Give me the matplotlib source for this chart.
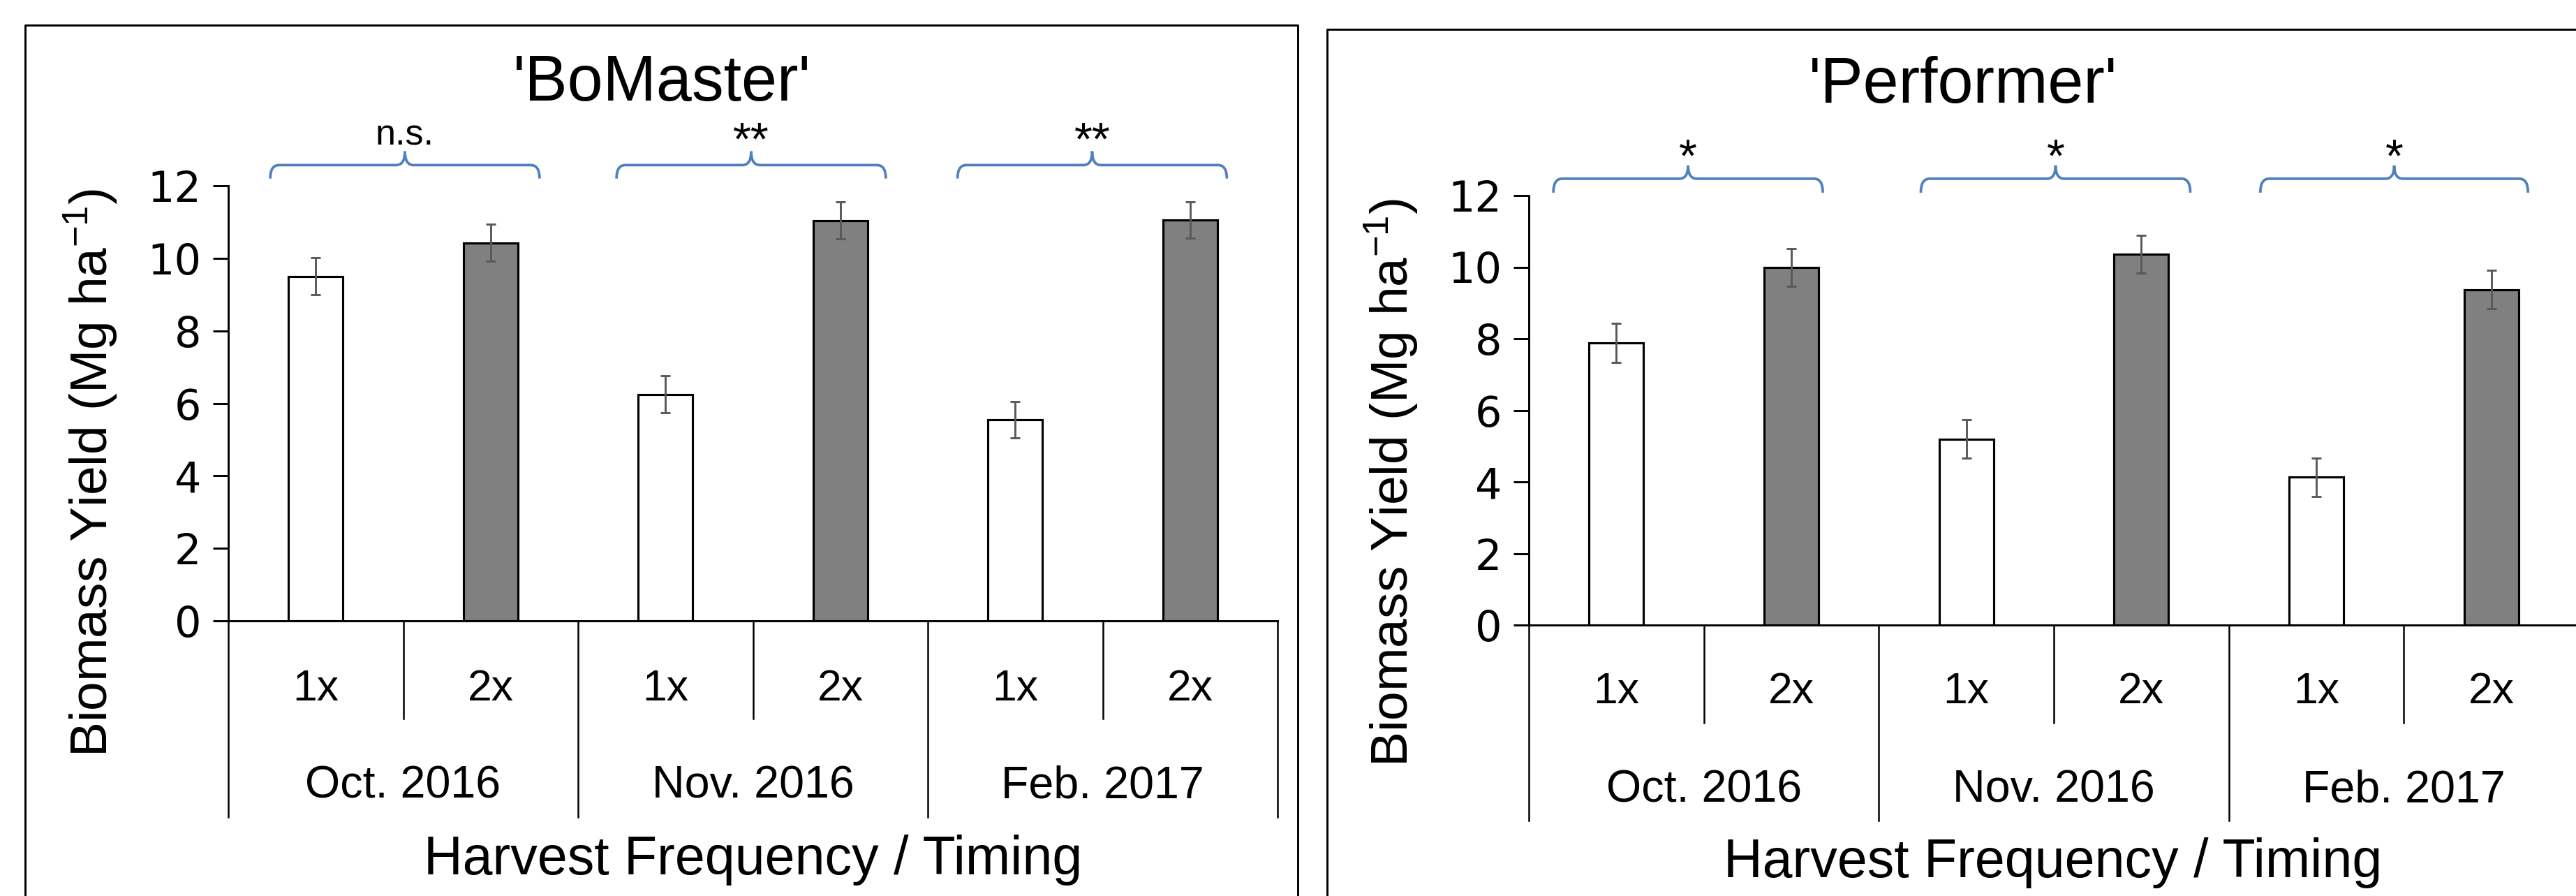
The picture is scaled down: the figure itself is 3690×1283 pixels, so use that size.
import matplotlib
matplotlib.use("Agg")
import matplotlib.pyplot as plt
from matplotlib.path import Path
from matplotlib.patches import PathPatch
from matplotlib.lines import Line2D
import numpy as np

# ---------------- data ----------------
timings = ["Oct. 2016", "Nov. 2016", "Feb. 2017"]
freqs = ["1x", "2x"]

bomaster_1x = [9.50, 6.25, 5.55]
bomaster_2x = [10.43, 11.04, 11.05]
bomaster_err_1x = [0.51, 0.51, 0.50]
bomaster_err_2x = [0.51, 0.51, 0.50]
bomaster_sig = ["n.s.", "**", "**"]

performer_1x = [7.88, 5.20, 4.13]
performer_2x = [9.99, 10.36, 9.37]
performer_err_1x = [0.54, 0.53, 0.53]
performer_err_2x = [0.53, 0.52, 0.54]
performer_sig = ["*", "*", "*"]

yticks = [0, 2, 4, 6, 8, 10, 12]

# ---------------- style ----------------
plt.rcParams["font.family"] = ["Liberation Sans", "DejaVu Sans"]
plt.rcParams["mathtext.default"] = "regular"

W, H = 3690, 1283
DPI = 300
fig = plt.figure(figsize=(W / DPI, H / DPI), dpi=DPI)

def fx(px):
    return px / W

def fy(py):
    return 1 - py / H

BRACE_C = "#4F81BD"
ERR_C = "#595959"


def brace(ax, x0, x1, ye, yt, ytip, dx):
    xm = (x0 + x1) / 2
    verts = [(x0, ye), (x0, yt), (x0 + dx, yt),
             (xm - dx, yt), (xm, yt), (xm, ytip),
             (xm, yt), (xm + dx, yt),
             (x1 - dx, yt), (x1, yt), (x1, ye)]
    codes = [Path.MOVETO, Path.CURVE3, Path.CURVE3,
             Path.LINETO, Path.CURVE3, Path.CURVE3,
             Path.CURVE3, Path.CURVE3,
             Path.LINETO, Path.CURVE3, Path.CURVE3]
    p = PathPatch(Path(verts, codes), facecolor="none", edgecolor=BRACE_C,
                  lw=0.9, clip_on=False)
    ax.add_patch(p)


def panel(rect, title, v1, v2, e1, e2, sig, spans, brace_y, text_y, star_y,
          inner_bot, outer_bot, lab1_y, lab2_y, title_px, ylab_px, xlab_px):
    ax = fig.add_axes(rect)
    n = len(timings)
    pos1 = np.arange(n) * 2
    pos2 = np.arange(n) * 2 + 1
    bw = 0.31
    ax.bar(pos1, v1, width=bw, color="white", edgecolor="black", lw=0.75, zorder=2)
    ax.bar(pos2, v2, width=bw, color="#808080", edgecolor="black", lw=0.75, zorder=2)
    ax.errorbar(pos1, v1, yerr=e1, fmt="none", ecolor=ERR_C, elinewidth=0.7,
                capsize=1.6, capthick=0.7, zorder=3)
    ax.errorbar(pos2, v2, yerr=e2, fmt="none", ecolor=ERR_C, elinewidth=0.7,
                capsize=1.6, capthick=0.7, zorder=3)

    ax.set_xlim(-0.5, 2 * n - 0.5)
    ax.set_ylim(0, 12)
    ax.set_yticks(yticks)
    ax.set_yticklabels([str(t) for t in yticks], family="DejaVu Sans", fontsize=14.5)
    ax.tick_params(axis="y", direction="out", length=5.3, width=0.7, pad=4)
    ax.set_xticks([])
    for s in ["top", "right"]:
        ax.spines[s].set_visible(False)
    ax.spines["left"].set_linewidth(0.7)
    ax.spines["bottom"].set_linewidth(0.7)

    trans = ax.get_xaxis_transform()
    # separators below the axis
    for k in range(2 * n + 1):
        xb = k - 0.5
        bot = outer_bot if k % 2 == 0 else inner_bot
        ax.add_line(Line2D([xb, xb], [0, bot], transform=trans, color="black",
                           lw=0.6, clip_on=False))
    # category labels
    for i in range(n):
        ax.text(pos1[i], lab1_y, freqs[0], transform=trans, ha="center",
                va="center", fontsize=15)
        ax.text(pos2[i], lab1_y, freqs[1], transform=trans, ha="center",
                va="center", fontsize=15)
        ax.text((pos1[i] + pos2[i]) / 2, lab2_y, timings[i], transform=trans,
                ha="center", va="center", fontsize=15.5)
    # braces and significance
    ye, yt, ytip = brace_y
    for i in range(n):
        x0, x1 = spans[i]
        brace(ax, x0, x1, ye, yt, ytip, 0.05)
        is_star = "*" in sig[i]
        ax.text((x0 + x1) / 2, star_y if is_star else text_y, sig[i],
                ha="center", va="baseline", fontsize=16 if is_star else 12.5,
                clip_on=False)

    fig.text(fx(title_px[0]), fy(title_px[1]), title, ha="center", va="center",
             fontsize=22)
    fig.text(fx(ylab_px[0]), fy(ylab_px[1]), r"Biomass Yield (Mg ha$^{-1}$)",
             rotation=90, ha="center", va="center", fontsize=18)
    fig.text(fx(xlab_px[0]), fy(xlab_px[1]), "Harvest Frequency / Timing",
             ha="center", va="center", fontsize=18.5)
    return ax


# left panel: 'BoMaster'
panel([fx(327), fy(889), fx(1830 - 327), 623 / H], "'BoMaster'",
      bomaster_1x, bomaster_2x, bomaster_err_1x, bomaster_err_2x, bomaster_sig,
      spans=[(-0.26, 1.28), (1.72, 3.26), (3.67, 5.21)],
      brace_y=(12.2, 12.57, 12.95), text_y=13.12, star_y=12.85,
      inner_bot=-0.2247, outer_bot=-0.451, lab1_y=-0.1557, lab2_y=-0.379,
      title_px=(948, 120), ylab_px=(130, 677), xlab_px=(1079, 1231))

# right panel: 'Performer'
panel([fx(2190), fy(895), fx(3694 - 2190), 615 / H], "'Performer'",
      performer_1x, performer_2x, performer_err_1x, performer_err_2x, performer_sig,
      spans=[(-0.36, 1.18), (1.74, 3.28), (3.68, 5.21)],
      brace_y=(12.08, 12.47, 12.84), text_y=12.98, star_y=12.68,
      inner_bot=-0.2276, outer_bot=-0.455, lab1_y=-0.156, lab2_y=-0.384,
      title_px=(2812, 123), ylab_px=(1993, 691), xlab_px=(2941, 1235))

# panel frames
fig.add_artist(Line2D([fx(36), fx(36), fx(1859), fx(1859)],
                      [fy(1300), fy(36), fy(36), fy(1300)],
                      transform=fig.transFigure, color="black", lw=0.7))
fig.add_artist(Line2D([fx(1901), fx(1901), fx(3700)],
                      [fy(1300), fy(42), fy(42)],
                      transform=fig.transFigure, color="black", lw=0.7))

fig.savefig("out.png", dpi=DPI, facecolor="white")
